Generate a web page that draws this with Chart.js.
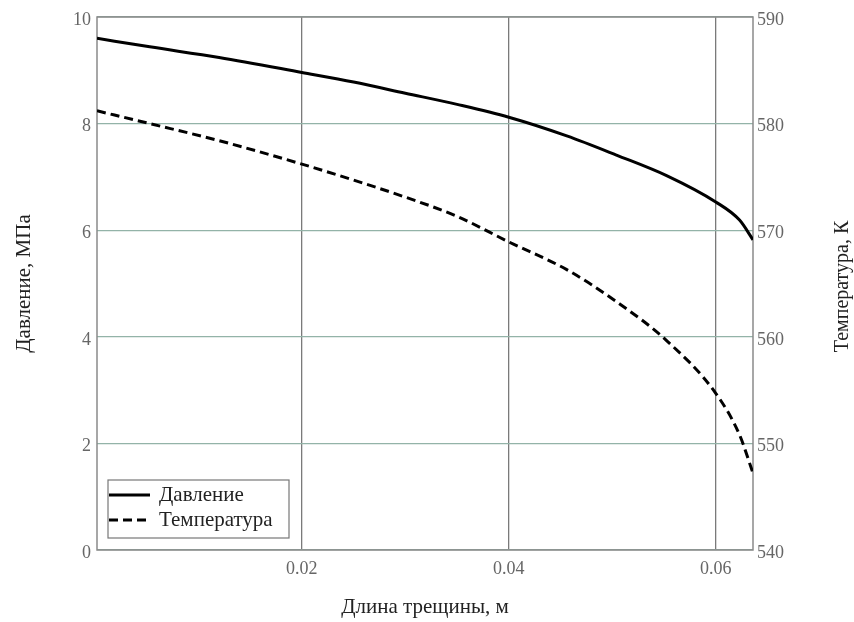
<!DOCTYPE html>
<html>
<head>
<meta charset="utf-8">
<script src="https://cdn.jsdelivr.net/npm/chart.js@4"></script>
<style>
  html, body { margin: 0; padding: 0; background: #fff; }
  #wrap { width: 854px; height: 622px; }
</style>
</head>
<body>
<div id="wrap"><canvas id="crackChart" width="854" height="622"></canvas></div>
<script>
// Data
const crackLength = [0.0002, 0.0053, 0.012, 0.02, 0.025, 0.03, 0.035, 0.04, 0.0456, 0.0504, 0.0553, 0.06, 0.0623, 0.0636];
const pressure = [9.60, 9.44, 9.24, 8.96, 8.78, 8.57, 8.36, 8.12, 7.77, 7.41, 7.02, 6.53, 6.19, 5.82];
const temperature = [581.2, 580.0, 578.4, 576.2, 574.7, 573.1, 571.3, 568.9, 566.3, 563.3, 559.6, 554.7, 550.8, 547.2];
const xTicks = [0.02, 0.04, 0.06];
const seriesNames = ['Давление', 'Температура'];

const serif = 'Liberation Serif, Times New Roman, serif';
const tickColor = '#666';

function points(ys) {
    return crackLength.map((x, i) => ({ x: x, y: ys[i] }));
}

// frame around the plot area
const framePlugin = {
    id: 'frame',
    beforeDatasetsDraw(chart) {
        const { ctx, chartArea: a } = chart;
        ctx.save();
        ctx.strokeStyle = '#8a8a8a';
        ctx.lineWidth = 1.5;
        ctx.strokeRect(a.left, a.top, a.right - a.left, a.bottom - a.top);
        ctx.restore();
    }
};

// right axis title reads bottom-to-top, like the left one
const rightTitlePlugin = {
    id: 'rightTitle',
    afterDraw(chart) {
        const { ctx, chartArea: a } = chart;
        ctx.save();
        ctx.translate(843, (a.top + a.bottom) / 2 + 3);
        ctx.rotate(-Math.PI / 2);
        ctx.font = '20px ' + serif;
        ctx.fillStyle = '#222';
        ctx.textAlign = 'center';
        ctx.textBaseline = 'middle';
        ctx.fillText('Температура, К', 0, 0);
        ctx.restore();
    }
};

// boxed legend in the lower left corner of the plot
const boxLegendPlugin = {
    id: 'boxLegend',
    afterDatasetsDraw(chart) {
        const { ctx } = chart;
        const x0 = 108, y0 = 480, w = 181, h = 58;
        ctx.save();
        ctx.fillStyle = '#fff';
        ctx.fillRect(x0, y0, w, h);
        ctx.strokeStyle = '#777';
        ctx.lineWidth = 1.2;
        ctx.strokeRect(x0, y0, w, h);
        ctx.font = '21px ' + serif;
        ctx.textBaseline = 'middle';
        chart.data.datasets.forEach((ds, i) => {
            const y = y0 + 15 + i * 25;
            ctx.strokeStyle = ds.borderColor;
            ctx.lineWidth = ds.borderWidth;
            ctx.setLineDash(ds.borderDash || []);
            ctx.beginPath();
            ctx.moveTo(x0 + 1, y);
            ctx.lineTo(x0 + 42, y);
            ctx.stroke();
            ctx.setLineDash([]);
            ctx.fillStyle = '#222';
            ctx.fillText(ds.label, x0 + 51, y);
        });
        ctx.restore();
    }
};

const ctx = document.getElementById('crackChart').getContext('2d');
const crackChart = new Chart(ctx, {
    type: 'line',
    data: {
        datasets: [{
            label: seriesNames[0],
            data: points(pressure),
            yAxisID: 'y',
            borderColor: '#000',
            borderWidth: 3,
            pointRadius: 0,
            cubicInterpolationMode: 'monotone'
        }, {
            label: seriesNames[1],
            data: points(temperature),
            yAxisID: 'y1',
            borderColor: '#000',
            borderWidth: 3,
            borderDash: [9, 5],
            pointRadius: 0,
            cubicInterpolationMode: 'monotone'
        }]
    },
    options: {
        responsive: false,
        animation: false,
        layout: { padding: { top: 17, left: 0, right: 0, bottom: 0 } },
        plugins: {
            legend: { display: false },
            tooltip: { enabled: false }
        },
        scales: {
            x: {
                type: 'linear',
                min: 0.0002,
                max: 0.0636,
                afterBuildTicks: s => { s.ticks = xTicks.map(v => ({ value: v })); },
                afterFit: s => { s.height = 72; },
                grid: { color: '#7a7a7a', lineWidth: 1.3, drawTicks: false },
                border: { display: false },
                ticks: {
                    color: tickColor,
                    font: { family: serif, size: 18 },
                    padding: 8,
                    maxRotation: 0,
                    callback: v => v.toFixed(2)
                },
                title: {
                    display: true,
                    text: 'Длина трещины, м',
                    color: '#222',
                    font: { family: serif, size: 21 },
                    padding: { top: 0, bottom: 2 }
                }
            },
            y: {
                position: 'left',
                min: 0,
                max: 10,
                afterFit: s => { s.width = 97; },
                grid: { color: '#93b3a8', lineWidth: 1.3, drawTicks: false },
                border: { display: false },
                ticks: {
                    stepSize: 2,
                    color: tickColor,
                    font: { family: serif, size: 18 },
                    padding: 6,
                    labelOffset: 3
                },
                title: {
                    display: true,
                    text: 'Давление, МПа',
                    color: '#222',
                    font: { family: serif, size: 21 },
                    padding: { top: 12, bottom: 0 }
                }
            },
            y1: {
                position: 'right',
                min: 540,
                max: 590,
                afterFit: s => { s.width = 101; },
                grid: { display: false, drawTicks: false },
                border: { display: false },
                ticks: {
                    stepSize: 10,
                    color: tickColor,
                    font: { family: serif, size: 18 },
                    padding: 4,
                    labelOffset: 3
                }
            }
        }
    },
    plugins: [framePlugin, boxLegendPlugin, rightTitlePlugin]
});
</script>
</body>
</html>
